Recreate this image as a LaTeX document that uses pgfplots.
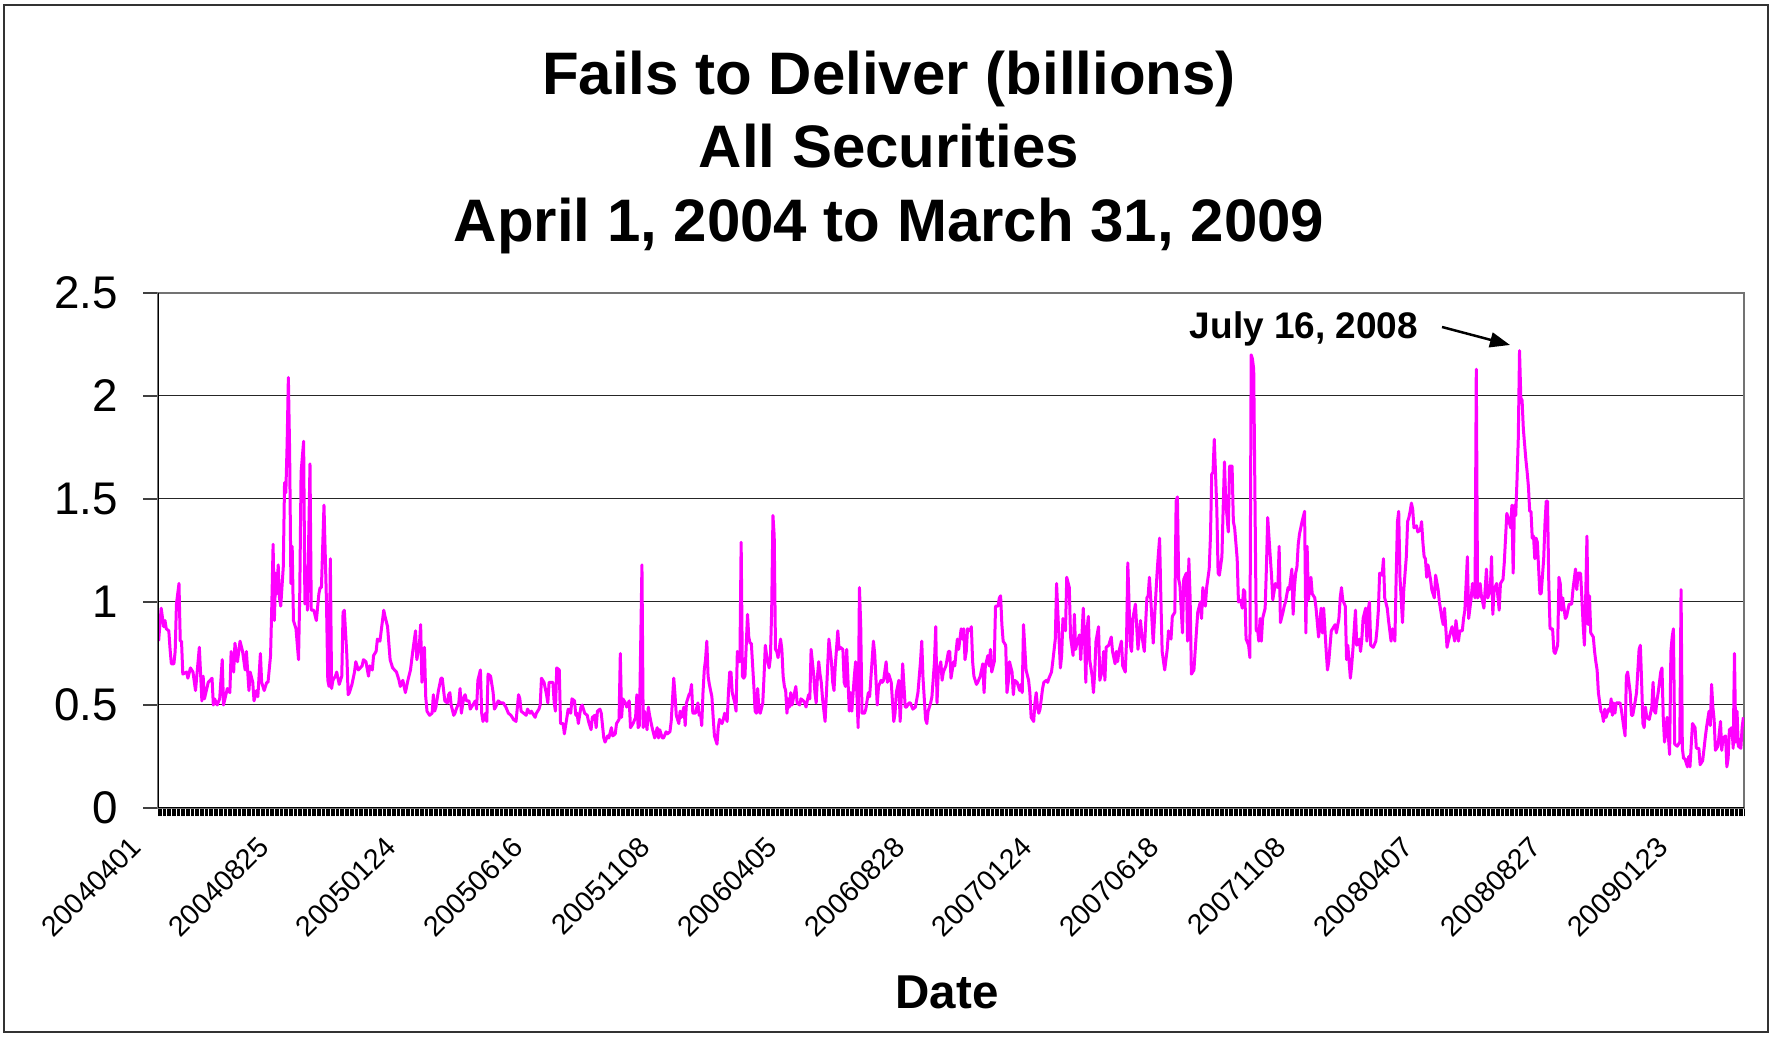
\documentclass[border=0pt]{standalone}
\usepackage{fontspec}
\setmainfont{Liberation Sans}
\usepackage{pgfplots}
\pgfplotsset{compat=1.18}
\usetikzlibrary{arrows.meta}
\definecolor{ftdline}{RGB}{255,0,255}

\begin{document}
\begin{tikzpicture}
\useasboundingbox (0pt,0pt) rectangle (709.2pt,414.8pt);
\draw[black!80, line width=0.8pt] (1.6pt,2pt) rectangle (707.2pt,412.8pt);

\node[anchor=base, font=\fontsize{24}{28}\selectfont\bfseries] at (355.6pt,376.8pt) {Fails to Deliver (billions)};
\node[anchor=base, font=\fontsize{24}{28}\selectfont\bfseries] at (355.6pt,347.6pt) {All Securities};
\node[anchor=base, font=\fontsize{24}{28}\selectfont\bfseries] at (355.6pt,318pt) {April 1, 2004 to March 31, 2009};

\begin{axis}[
  at={(63.2pt,91.6pt)}, anchor=south west,
  scale only axis, width=634.4pt, height=206pt,
  xmin=-0.5, xmax=1246.5, ymin=0, ymax=2.5,
  tick pos=left, tick align=outside,
  xtick={0,100,...,1200},
  xticklabels={20040401,20040825,20050124,20050616,20051108,20060405,20060828,20070124,20070618,20071108,20080407,20080827,20090123},
  major x tick style={draw=none},
  minor xtick={-0.5,0.5,...,1246.5},
  minor tick length=3.4pt,
  minor x tick style={black, line width=0.3pt},
  ytick={0,0.5,1,1.5,2,2.5},
  yticklabels={0,0.5,1,1.5,2,2.5},
  major tick length=6pt,
  y tick style={black!75, line width=0.5pt},
  xticklabel style={font=\fontsize{11.4}{12}\selectfont, xshift=-11.8pt, yshift=-4.4pt, rotate=45, anchor=north east, inner sep=0pt},
  yticklabel style={font=\fontsize{18.3}{20}\selectfont, xshift=-9.8pt, anchor=east, inner sep=0pt},
  ymajorgrids,
  grid style={black!85, line width=0.4pt},
  axis line style={black!55, line width=0.5pt},
]
\addplot[color=ftdline, line width=1.2pt, line join=round, mark=none] coordinates {
(0,0.81)(2,0.97)(4,0.88)(5,0.91)(6,0.87)(8,0.86)(9,0.77)(10,0.70)(12,0.70)(13,0.76)
(14,0.99)(16,1.09)(17,0.81)(18,0.81)(19,0.65)(22,0.66)(23,0.63)(25,0.68)(27,0.66)(29,0.57)
(32,0.78)(34,0.52)(35,0.64)(36,0.53)(39,0.61)(42,0.63)(43,0.50)(44,0.53)(46,0.50)(48,0.53)
(50,0.72)(51,0.50)(54,0.58)(56,0.56)(57,0.76)(59,0.66)(60,0.80)(62,0.71)(64,0.81)(66,0.76)
(68,0.67)(69,0.76)(71,0.57)(72,0.66)(74,0.61)(75,0.52)(77,0.57)(78,0.54)(80,0.75)(81,0.61)
(83,0.57)(85,0.61)(86,0.61)(88,0.74)(89,0.99)(90,1.28)(91,0.91)(92,1.14)(93,1.04)(94,1.18)
(95,1.02)(96,0.98)(98,1.17)(99,1.58)(100,1.53)(101,1.76)(102,2.09)(103,1.73)(104,1.09)(105,1.27)
(106,0.91)(108,0.87)(110,0.72)(111,1.06)(112,1.63)(114,1.78)(115,0.99)(116,1.17)(117,0.96)(119,1.67)
(120,0.96)(122,0.96)(124,0.91)(126,1.04)(127,1.07)(128,1.07)(130,1.47)(132,0.99)(133,0.62)(134,0.59)
(135,1.21)(136,0.58)(137,0.62)(139,0.64)(140,0.66)(142,0.60)(144,0.64)(145,0.95)(146,0.96)(148,0.74)
(149,0.55)(150,0.56)(152,0.60)(154,0.66)(155,0.71)(157,0.67)(160,0.69)(161,0.72)(163,0.71)(165,0.64)
(166,0.69)(168,0.67)(169,0.74)(171,0.76)(172,0.82)(174,0.81)(175,0.86)(177,0.96)(178,0.93)(180,0.88)
(182,0.72)(184,0.68)(187,0.66)(189,0.62)(190,0.59)(192,0.62)(194,0.56)(196,0.62)(198,0.67)(200,0.77)
(202,0.86)(203,0.72)(205,0.79)(206,0.89)(207,0.61)(209,0.78)(210,0.54)(211,0.47)(213,0.45)
(215,0.46)(216,0.55)(217,0.47)(218,0.49)(220,0.57)(222,0.63)(223,0.63)(225,0.52)(227,0.51)(228,0.55)
(229,0.56)(230,0.50)(232,0.45)(233,0.46)(234,0.48)(236,0.51)(237,0.58)(238,0.46)(240,0.54)(241,0.55)
(242,0.52)(244,0.52)(245,0.48)(247,0.50)(249,0.52)(250,0.48)(251,0.62)(253,0.67)(254,0.46)(255,0.42)
(257,0.46)(258,0.42)(259,0.65)(261,0.64)(263,0.56)(264,0.48)(265,0.49)(267,0.52)(269,0.51)(271,0.51)
(273,0.49)(275,0.46)(277,0.45)(279,0.43)(281,0.42)(283,0.55)(284,0.53)(285,0.47)(287,0.46)(289,0.45)
(290,0.48)(292,0.46)(293,0.47)(294,0.46)(296,0.44)(297,0.46)(299,0.48)(300,0.50)(301,0.63)(303,0.61)
(305,0.55)(306,0.51)(307,0.61)(308,0.61)(310,0.61)(311,0.51)(312,0.47)(313,0.68)(315,0.67)(316,0.41)
(318,0.41)(319,0.36)(321,0.44)(322,0.48)(324,0.46)(325,0.53)(327,0.52)(328,0.45)(329,0.46)(330,0.41)
(332,0.49)(333,0.50)(335,0.46)(337,0.45)(338,0.42)(340,0.38)(341,0.44)(343,0.45)(344,0.39)(345,0.47)
(347,0.48)(348,0.46)(350,0.34)(351,0.32)(353,0.35)(354,0.34)(356,0.39)(357,0.35)(359,0.36)(360,0.41)
(362,0.43)(363,0.75)(364,0.44)(365,0.53)(367,0.51)(368,0.49)(370,0.52)(371,0.39)(373,0.41)(375,0.44)
(376,0.55)(377,0.39)(378,0.40)(380,1.18)(381,0.39)(382,0.47)(384,0.38)(385,0.49)(386,0.45)(388,0.39)
(390,0.34)(392,0.39)(393,0.34)(394,0.38)(396,0.34)(397,0.34)(399,0.37)(400,0.36)(402,0.37)(403,0.42)
(405,0.63)(406,0.55)(407,0.45)(409,0.41)(410,0.47)(411,0.44)(413,0.49)(414,0.40)(415,0.51)(417,0.55)
(418,0.56)(419,0.60)(420,0.46)(422,0.46)(424,0.51)(425,0.45)
(426,0.46)(427,0.40)(428,0.56)(429,0.67)(430,0.72)(431,0.81)(432,0.64)(433,0.60)(435,0.54)(436,0.44)
(437,0.35)(439,0.31)(440,0.39)(441,0.43)(443,0.41)(444,0.43)(445,0.46)(447,0.42)(448,0.56)(449,0.66)
(450,0.66)(451,0.56)(453,0.51)(454,0.47)(455,0.76)(456,0.71)(457,0.71)(458,1.29)(459,0.64)(460,0.63)
(461,0.64)(463,0.94)(464,0.83)(465,0.80)(466,0.80)(468,0.59)(469,0.47)(470,0.46)(471,0.58)(472,0.47)
(473,0.46)(475,0.51)(476,0.64)(477,0.79)(478,0.74)(480,0.68)(481,0.73)(482,0.96)(483,1.42)(484,1.32)
(485,0.77)(486,0.76)(487,0.73)(489,0.82)(490,0.77)(491,0.64)(492,0.59)(493,0.57)(494,0.46)(495,0.53)
(496,0.49)(497,0.56)(498,0.50)(500,0.56)(501,0.59)(502,0.51)(504,0.50)(505,0.53)(507,0.52)(508,0.51)
(509,0.49)(511,0.55)(512,0.53)(513,0.77)(515,0.65)(516,0.56)(517,0.51)(518,0.64)(519,0.71)(520,0.65)
(521,0.61)(522,0.53)(524,0.42)(525,0.55)(527,0.82)(529,0.71)(530,0.61)(531,0.57)(532,0.69)(534,0.86)
(535,0.77)(536,0.78)(538,0.77)(539,0.61)(540,0.59)(541,0.77)(542,0.62)(543,0.47)(544,0.56)(545,0.47)
(547,0.64)(548,0.71)(550,0.39)(551,1.07)(552,0.89)(553,0.46)(555,0.46)(556,0.48)(558,0.56)(559,0.54)
(561,0.72)(562,0.81)(563,0.75)(565,0.50)(566,0.59)(568,0.62)(569,0.61)(570,0.62)(572,0.71)(573,0.61)
(574,0.65)(576,0.61)(578,0.42)(579,0.46)(580,0.56)(582,0.62)(583,0.42)(584,0.55)(585,0.70)(587,0.49)
(588,0.49)(590,0.51)(591,0.51)(593,0.48)(595,0.49)(597,0.56)(599,0.71)(600,0.81)(601,0.63)(603,0.43)
(604,0.41)(605,0.47)(607,0.51)(608,0.54)(610,0.71)(611,0.88)(612,0.51)(613,0.66)(615,0.71)(616,0.62)
(617,0.66)(619,0.69)(621,0.76)(622,0.76)(623,0.63)(625,0.71)(626,0.69)(627,0.76)(628,0.82)(629,0.77)
(631,0.87)(632,0.82)(633,0.87)(634,0.72)(635,0.76)(636,0.87)(638,0.86)
(639,0.88)(640,0.71)(641,0.64)(643,0.60)(644,0.61)(646,0.64)(648,0.70)(649,0.56)(650,0.69)(652,0.74)
(653,0.69)(654,0.77)(655,0.66)(657,0.71)(658,0.98)(660,0.98)(661,1.02)(662,1.03)(663,0.89)(664,0.81)
(666,0.79)(667,0.56)(668,0.61)(669,0.71)(671,0.66)(672,0.55)(673,0.62)(675,0.61)(677,0.57)(678,0.60)
(679,0.56)(680,0.89)(682,0.67)(684,0.62)(685,0.56)(686,0.44)(688,0.42)(689,0.51)(690,0.56)(691,0.49)
(692,0.46)(693,0.48)(695,0.58)(696,0.61)(698,0.62)(699,0.61)(700,0.63)(702,0.66)(703,0.71)(705,0.82)
(706,1.09)(708,0.81)(709,0.68)(710,0.74)(711,0.92)(713,0.86)(714,1.12)(716,1.07)(717,0.83)(719,0.74)
(720,0.94)(721,0.77)(722,0.80)(724,0.84)(725,0.72)(727,0.97)(728,0.82)(729,0.61)(730,0.87)(731,0.93)
(732,0.72)(734,0.64)(735,0.56)(736,0.66)(737,0.81)(739,0.88)(740,0.62)(742,0.67)(743,0.76)(744,0.62)
(745,0.78)(747,0.79)(749,0.83)(750,0.76)(752,0.70)(753,0.76)(754,0.71)(755,0.76)(757,0.81)(758,0.69)
(760,0.66)(761,0.81)(762,1.19)(764,0.79)(765,0.76)(766,0.92)(768,0.99)(770,0.77)(772,0.91)(773,0.84)
(775,0.76)(777,1.02)(778,1.03)(779,1.12)(780,1.02)(782,0.80)(783,0.92)(785,1.14)(786,1.23)(787,1.31)
(788,1.02)(789,0.76)(791,0.67)(793,0.77)(794,0.86)(796,0.82)(797,0.93)(799,0.95)(800,1.49)(801,1.51)
(802,1.11)(803,1.08)(805,0.85)(806,1.11)(808,1.14)(809,0.81)(810,1.21)(811,1.02)(812,0.65)(814,0.67)
(816,0.86)(817,0.95)(819,1.00)(820,0.92)(821,1.07)(823,0.98)(824,1.07)(826,1.16)(827,1.32)(828,1.62)
(829,1.63)(830,1.79)(832,1.45)(833,1.14)(834,1.13)(836,1.22)(837,1.46)(838,1.68)(839,1.49)(841,1.34)
(842,1.66)(844,1.66)(845,1.39)(846,1.36)(848,1.21)(849,1.00)(850,1.01)
(851,1.00)(852,0.97)(853,1.06)(854,1.05)(855,0.82)(857,0.79)(858,0.73)(859,2.20)(860,2.18)(861,2.13)
(863,0.86)(864,0.87)(865,0.81)(866,0.92)(867,0.81)(868,0.92)(870,0.97)(871,1.17)(872,1.41)(874,1.22)
(875,1.13)(876,1.01)(878,1.09)(880,1.07)(881,1.27)(882,0.90)(884,0.95)(885,0.98)(886,1.00)(888,1.07)
(889,1.06)(891,1.16)(892,0.94)(893,1.07)(894,1.14)(895,1.17)(896,1.28)(897,1.33)(899,1.39)(901,1.44)
(902,0.85)(903,1.27)(904,1.01)(906,1.12)(907,1.04)(909,1.02)(910,0.97)(912,0.83)(914,0.97)(915,0.85)
(916,0.97)(918,0.76)(919,0.67)(920,0.71)(922,0.86)(923,0.87)(925,0.89)(926,0.85)(928,0.92)(929,1.02)
(930,1.07)(931,1.01)(933,0.98)(934,0.72)(935,0.79)(937,0.63)(938,0.69)(939,0.77)(941,0.96)(942,0.79)
(944,0.82)(945,0.76)(946,0.82)(947,0.92)(949,0.97)(950,0.81)(951,0.96)(952,1.00)(953,0.79)(955,0.78)
(957,0.81)(958,0.87)(959,0.96)(960,1.14)(962,1.13)(963,1.21)(964,1.02)(966,0.97)(967,0.91)(969,0.81)
(970,0.87)(972,0.81)(973,1.12)(974,1.39)(975,1.44)(976,1.12)(978,0.90)(979,1.06)(981,1.22)(982,1.39)
(983,1.41)(984,1.44)(985,1.48)(986,1.45)(987,1.36)(989,1.37)(990,1.34)(992,1.35)(993,1.39)(994,1.29)
(995,1.22)(996,1.21)(997,1.12)(998,1.18)(1000,1.11)(1001,1.06)(1003,1.02)(1004,1.13)(1006,1.06)(1007,1.00)
(1009,0.92)(1010,0.89)(1011,0.97)(1013,0.78)(1014,0.81)(1016,0.86)(1017,0.88)(1019,0.81)(1020,0.91)(1022,0.81)
(1023,0.86)(1025,0.86)(1026,0.92)(1027,0.96)(1029,1.22)(1030,0.92)(1032,1.02)(1033,1.09)(1035,1.02)(1036,2.13)
(1037,1.02)(1038,1.03)(1039,1.09)(1040,1.03)(1042,0.97)(1044,1.16)(1045,1.02)(1047,1.06)(1048,1.22)(1049,0.94)
(1050,1.06)(1052,1.09)(1054,0.96)(1055,1.09)(1057,1.11)(1058,1.19)(1060,1.43)(1061,1.41)
(1063,1.36)(1064,1.47)(1065,1.14)(1066,1.47)(1067,1.42)(1068,1.59)(1069,1.79)(1070,2.22)(1071,1.99)(1072,1.98)
(1073,1.84)(1075,1.69)(1076,1.63)(1077,1.56)(1078,1.44)(1079,1.44)(1080,1.31)(1081,1.32)(1082,1.21)(1083,1.31)
(1084,1.29)(1086,1.04)(1087,1.04)(1089,1.21)(1090,1.38)(1091,1.49)(1092,1.49)(1093,1.09)(1094,0.87)(1096,0.87)
(1097,0.76)(1098,0.75)(1100,0.79)(1101,1.12)(1102,1.09)(1103,0.96)(1104,1.02)(1106,0.92)(1107,0.93)(1109,0.99)
(1111,0.99)(1112,1.06)(1114,1.16)(1115,1.06)(1116,1.14)(1118,1.14)(1119,1.02)(1120,0.89)(1121,0.79)(1122,1.02)
(1123,1.32)(1124,0.89)(1125,1.03)(1126,0.85)(1128,0.83)(1129,0.76)(1130,0.71)(1131,0.67)(1132,0.56)(1134,0.47)
(1135,0.46)(1136,0.42)(1137,0.48)(1138,0.44)(1140,0.48)(1141,0.47)(1142,0.53)(1143,0.45)(1144,0.51)(1145,0.46)
(1146,0.51)(1147,0.51)(1149,0.51)(1150,0.48)(1152,0.39)(1153,0.35)(1154,0.64)(1155,0.66)(1157,0.56)(1158,0.45)
(1159,0.45)(1161,0.52)(1162,0.56)(1164,0.77)(1165,0.79)(1166,0.61)(1167,0.41)(1168,0.39)(1169,0.49)(1170,0.44)
(1172,0.43)(1174,0.49)(1175,0.61)(1176,0.47)(1177,0.46)(1178,0.52)(1179,0.56)(1181,0.66)(1182,0.68)(1183,0.44)
(1184,0.32)(1185,0.37)(1186,0.44)(1187,0.35)(1188,0.26)(1189,0.76)(1190,0.83)(1191,0.87)(1192,0.31)(1194,0.30)
(1196,0.32)(1197,1.06)(1198,0.29)(1199,0.24)(1200,0.24)(1202,0.20)(1203,0.25)(1204,0.20)(1206,0.41)(1208,0.39)
(1209,0.29)(1211,0.29)(1212,0.21)(1214,0.23)(1216,0.34)(1217,0.39)(1219,0.47)(1220,0.40)(1221,0.60)(1222,0.49)
(1223,0.43)(1224,0.28)(1226,0.30)(1228,0.42)(1229,0.28)(1230,0.34)(1232,0.35)(1233,0.20)(1234,0.24)(1235,0.38)
(1237,0.39)(1238,0.29)(1239,0.75)(1240,0.32)(1241,0.47)(1242,0.30)(1244,0.29)(1245,0.39)(1246,0.44)
};
\draw[black, line width=0.8pt] (rel axis cs:0,0) -- (rel axis cs:0,1);
\draw[black, line width=0.5pt] (rel axis cs:0,0) -- (rel axis cs:1,0);
\end{axis}

\node[anchor=base east, font=\fontsize{14.8}{17}\selectfont\bfseries] at (570.8pt,279.4pt) {July 16, 2008};
\draw[line width=1pt, -{Triangle[length=8pt,width=6pt]}] (576.8pt,284pt) -- (604pt,276.8pt);
\node[anchor=base, font=\fontsize{19}{22}\selectfont\bfseries] at (378.8pt,11.4pt) {Date};
\end{tikzpicture}
\end{document}
